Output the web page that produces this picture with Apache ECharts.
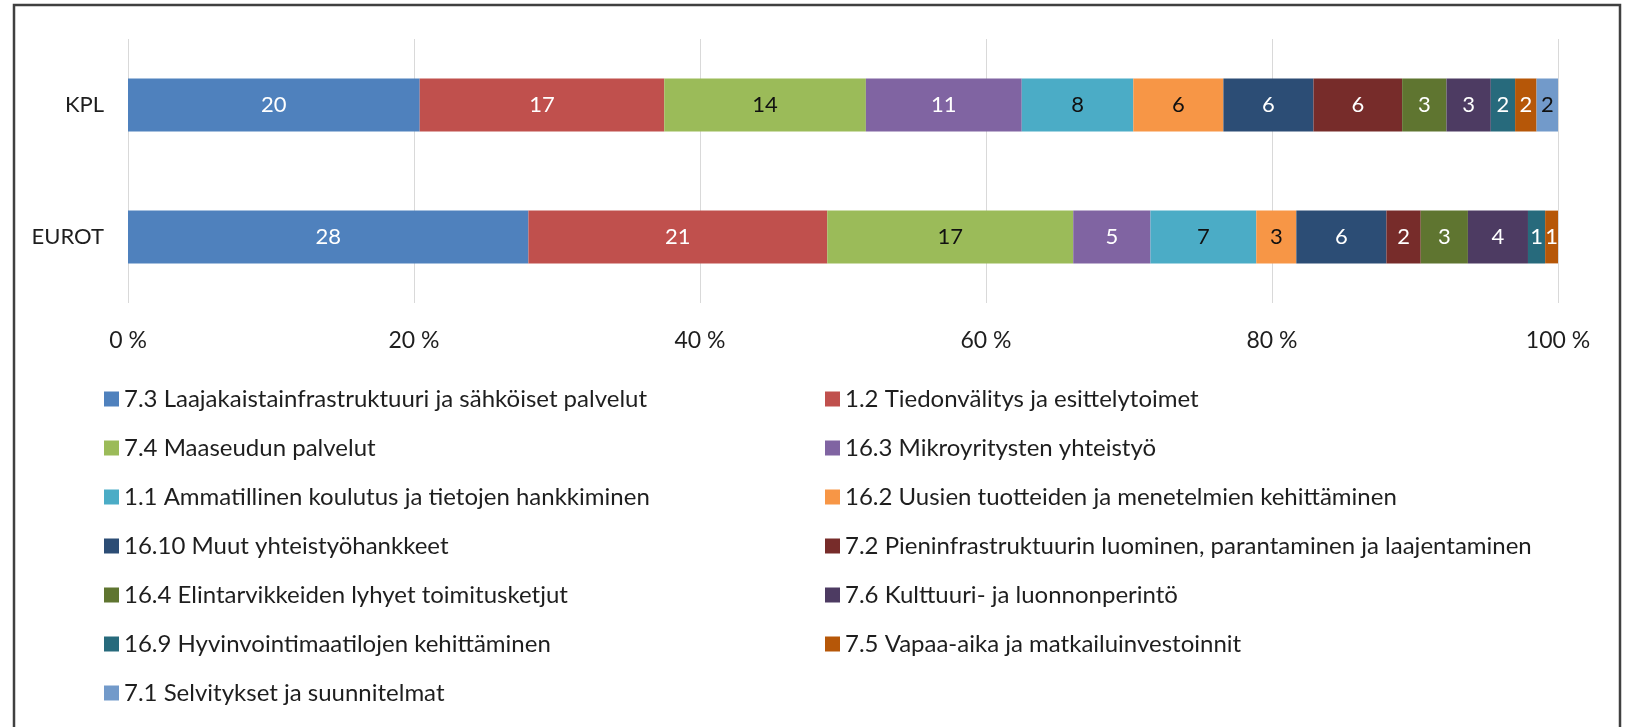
<!DOCTYPE html>
<html>
<head>
<meta charset="utf-8">
<style>
html,body{margin:0;padding:0;background:#fff;}
#c{width:1632px;height:727px;}
</style>
<script src="https://cdn.jsdelivr.net/npm/echarts@6/dist/echarts.min.js"></script>
</head>
<body>
<div id="c"></div>
<script>
// ---- data ----
const categories = ['KPL', 'EUROT'];
const seriesNames = [
  '7.3 Laajakaistainfrastruktuuri ja sähköiset palvelut',
  '1.2 Tiedonvälitys ja esittelytoimet',
  '7.4 Maaseudun palvelut',
  '16.3 Mikroyritysten yhteistyö',
  '1.1 Ammatillinen koulutus ja tietojen hankkiminen',
  '16.2 Uusien tuotteiden ja menetelmien kehittäminen',
  '16.10 Muut yhteistyöhankkeet',
  '7.2 Pieninfrastruktuurin luominen, parantaminen ja laajentaminen',
  '16.4 Elintarvikkeiden lyhyet toimitusketjut',
  '7.6 Kulttuuri- ja luonnonperintö',
  '16.9 Hyvinvointimaatilojen kehittäminen',
  '7.5 Vapaa-aika ja matkailuinvestoinnit',
  '7.1 Selvitykset ja suunnitelmat'
];
// percentage shares per series (KPL, EUROT)
const kplValues   = [20.4, 17.1, 14.1, 10.9, 7.8, 6.3, 6.3, 6.2, 3.1, 3.1, 1.7, 1.5, 1.5];
const eurotValues = [28.0, 20.9, 17.2, 5.4, 7.4, 2.8, 6.3, 2.4, 3.3, 4.2, 1.2, 0.9, 0];
const xTickFormat = '{value} %';

// ---- style ----
const colors = ['#4F81BD','#C0504D','#9BBB59','#8064A2','#4BACC6','#F79646',
                '#2C4D75','#772C2A','#5F7530','#4D3B62','#276A7C','#B65708','#729ACA'];
const darkLabel = {2:true, 4:true, 5:true, 12:true};
const FONT = 'Lato, "Open Sans", sans-serif';

const series = seriesNames.map((name, i) => ({
  name: name,
  type: 'bar',
  stack: 'total',
  barCategoryGap: '60%',
  itemStyle: { color: colors[i] },
  label: {
    show: true,
    position: 'inside',
    fontFamily: FONT,
    fontSize: 22,
    color: darkLabel[i] ? '#111' : '#fff',
    formatter: p => (p.value > 0 ? String(Math.round(p.value)) : '')
  },
  emphasis: { disabled: true },
  data: [kplValues[i], eurotValues[i]]
}));

const legendCommon = {
  type: 'plain',
  orient: 'vertical',
  icon: 'rect',
  padding: 0,
  height: 400,
  itemWidth: 15,
  itemHeight: 15,
  itemGap: 25,
  textStyle: { fontFamily: FONT, fontSize: 24, color: '#1e1e1e' },
  selectedMode: false
};

const chart = echarts.init(document.getElementById('c'), null, {renderer: 'canvas'});
chart.setOption({
  animation: false,
  backgroundColor: '#fff',
  graphic: [{
    type: 'rect',
    shape: { x: 14, y: 5, width: 1606, height: 760 },
    style: { fill: 'none', stroke: '#404040', lineWidth: 2.5 },
    silent: true
  }],
  grid: { left: 128, right: 74, top: 39, height: 264 },
  xAxis: {
    type: 'value',
    min: 0, max: 100, interval: 20,
    axisLine: { show: false },
    axisTick: { show: false },
    splitLine: { lineStyle: { color: '#d9d9d9', width: 1 } },
    axisLabel: { formatter: xTickFormat, fontFamily: FONT, fontSize: 23, color: '#1e1e1e', margin: 26 }
  },
  yAxis: {
    type: 'category',
    data: categories,
    inverse: true,
    axisLine: { show: false },
    axisTick: { show: false },
    axisLabel: { fontFamily: FONT, fontSize: 22, color: '#1e1e1e', margin: 24 }
  },
  legend: [
    Object.assign({}, legendCommon, { left: 104, top: 387, data: seriesNames.filter((_, i) => i % 2 === 0) }),
    Object.assign({}, legendCommon, { left: 825, top: 387, data: seriesNames.filter((_, i) => i % 2 === 1) })
  ],
  series: series
});
</script>
</body>
</html>
